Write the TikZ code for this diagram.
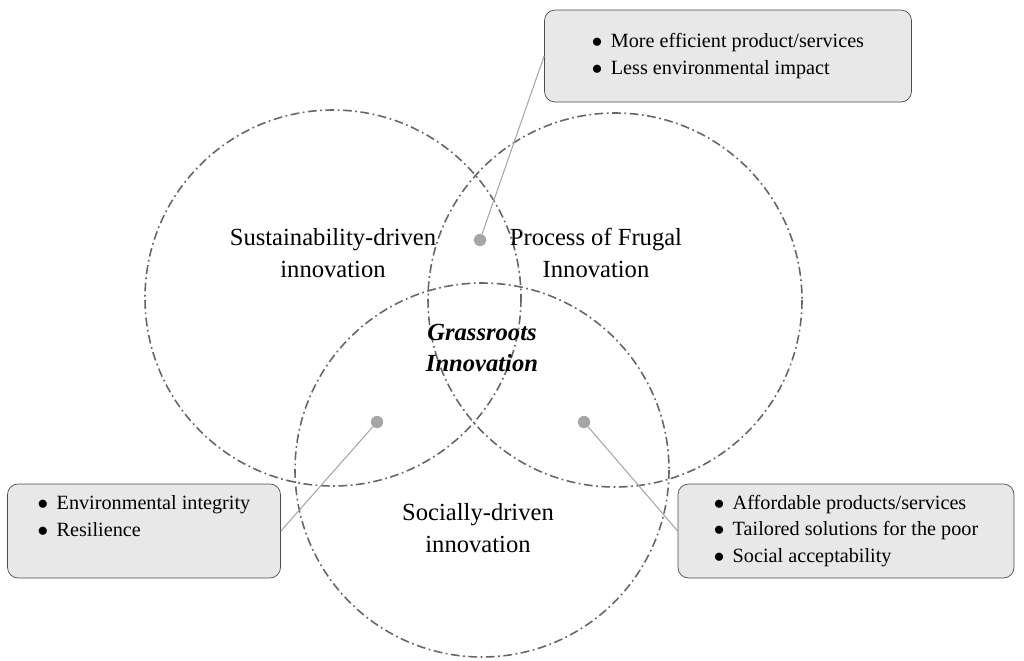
\documentclass[tikz,border=0pt]{standalone}
\usepackage{fontspec}
\setmainfont{Liberation Serif}
\usetikzlibrary{positioning}
\tikzset{
  ring/.style={draw=gray!80!black,dash pattern=on 5pt off 2pt on 1pt off 2pt,line width=0.9pt},
  dot/.style={circle,fill=gray!70,inner sep=0pt,minimum size=7pt},
  infobox/.style={draw=gray!60!black,fill=gray!18,rounded corners=6pt,align=left,font=\fontsize{11.5}{15}\selectfont,inner sep=6pt},
  lead/.style={draw=gray!70,line width=0.6pt},
  label/.style={align=center,font=\fontsize{14}{18}\selectfont}
}
\begin{document}
\begin{tikzpicture}[x=0.02cm,y=-0.02cm]
    \useasboundingbox (0,0) rectangle (1024,660);
    \draw[ring] (333,298) circle[radius=188];
    \draw[ring] (615,300) circle[radius=187];
    \draw[ring] (482,470) circle[radius=187];
    \node[label] (sus) at (333,253) {Sustainability-driven\\innovation};
    \node[label] (fru) at (596,253) {Process of Frugal\\Innovation};
    \node[label,font=\fontsize{14}{18}\selectfont\bfseries\itshape] (gra) at (482,348) {Grassroots\\Innovation};
    \node[label] (soc) at (478,528) {Socially-driven\\innovation};
    \node[dot] (d1) at (480,240) {};
    \node[dot] (d2) at (377,422) {};
    \node[dot] (d3) at (584,422) {};
    \node[infobox,minimum width=367*0.02cm,minimum height=92*0.02cm] (b1) at (728,56)
      {$\bullet$\, More efficient product/services\\$\bullet$\, Less environmental impact};
    \node[infobox,minimum width=273*0.02cm,minimum height=94*0.02cm] (b2) at (144,531)
      {$\bullet$\, Environmental integrity\\$\bullet$\, Resilience\\[2pt]};
    \node[infobox,minimum width=336*0.02cm,minimum height=94*0.02cm] (b3) at (846,531)
      {$\bullet$\, Affordable products/services\\$\bullet$\, Tailored solutions for the poor\\$\bullet$\, Social acceptability};
    \draw[lead] (d1) -- (b1.west);
    \draw[lead] (d2) -- (b2.east);
    \draw[lead] (d3) -- (b3.west);
\end{tikzpicture}
\end{document}
